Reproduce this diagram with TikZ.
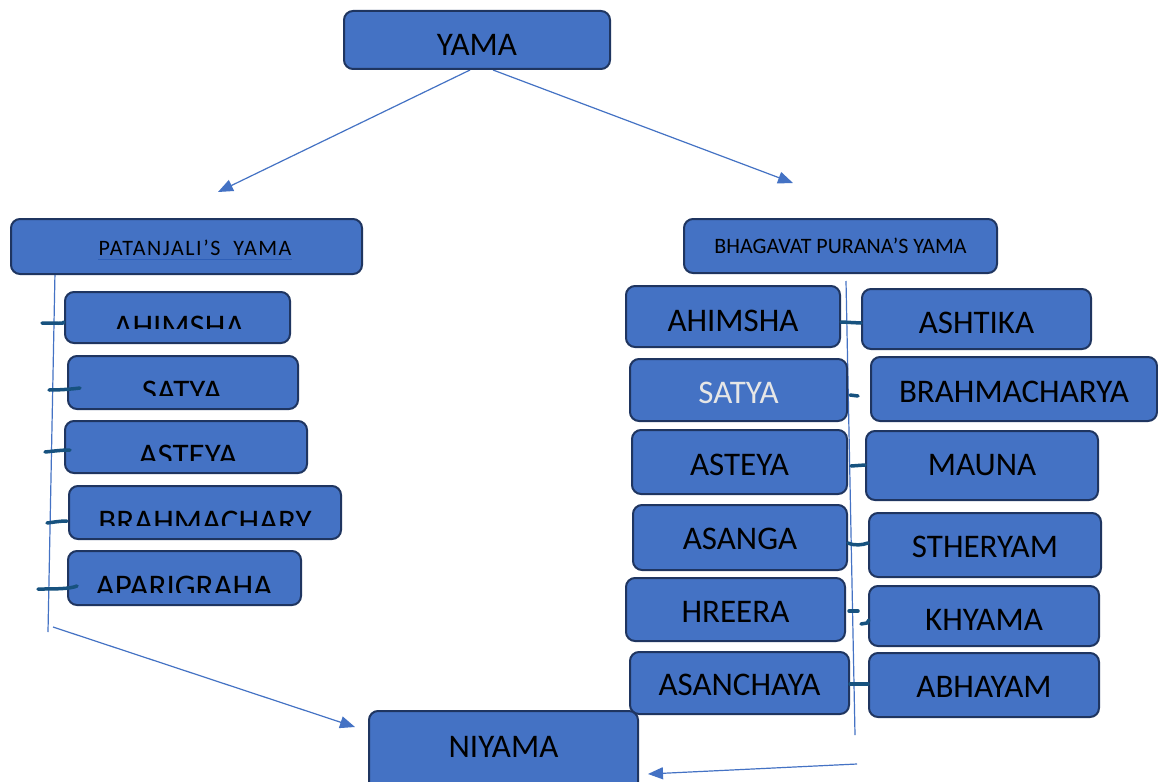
\documentclass[tikz,border=0pt]{standalone}
\usepackage{fontspec}
\setmainfont{Carlito}
\usetikzlibrary{arrows.meta}
\definecolor{boxfill}{HTML}{4472C4}
\definecolor{boxline}{HTML}{1F3560}
\definecolor{tickc}{HTML}{17527F}
\definecolor{arrc}{HTML}{4472C4}
\definecolor{lightt}{HTML}{E6E6E6}
\definecolor{ulc}{HTML}{2E5FB8}
\begin{document}
\begin{tikzpicture}[x=1pt,y=-1pt,
  box/.style={draw=boxline, line width=2pt, fill=boxfill, rounded corners=9pt, inner sep=0pt, text=black, font=\fontsize{33}{36}\selectfont},
  smallbox/.style={box, font=\fontsize{22}{24}\selectfont},
  tick/.style={draw=tickc, line width=3.5pt, line cap=round},
  conn/.style={draw=arrc, line width=1.2pt},
  arr/.style={conn, -{Triangle[length=15pt,width=12pt]}},
  bt/.style={text=black, font=\fontsize{33}{36}\selectfont, inner sep=0pt, anchor=base},
]
\useasboundingbox (0,0) rectangle (1158,781);
\fill[white] (0,0) rectangle (1158,781);

% connector end points
\coordinate (yamaL) at (470,70);
\coordinate (yamaR) at (493,70);
\coordinate (patTip) at (218,192);
\coordinate (bhaTip) at (793,183);
\coordinate (lTop) at (55,272);
\coordinate (lBot) at (48,632);
\coordinate (lStart) at (53,627);
\coordinate (niyL) at (355,727);
\coordinate (rTop) at (846,281);
\coordinate (rBot) at (855,735);
\coordinate (rStart) at (857,764);
\coordinate (niyR) at (648,774);

\draw[arr] (yamaL) -- (patTip);
\draw[arr] (yamaR) -- (bhaTip);
\draw[conn] (lTop) -- (lBot);
\draw[arr] (lStart) -- (niyL);
\draw[conn] (rTop) -- (rBot);
\draw[arr] (rStart) -- (niyR);

% top
\node[box, minimum width=266pt, minimum height=58pt, text height=31pt] (yama) at (477,40) {YAMA};

% Patanjali
\node[box, minimum width=351pt, minimum height=55pt] (patanjali) at (186.5,246.5) {};
\node[font=\fontsize{22}{24}\selectfont\addfontfeatures{LetterSpace=7}, inner sep=0pt, text=black] (patanjaliT) at (195,248) {PATANJALI’S\ \ YAMA};
\draw[ulc, line width=1pt] (patanjaliT.south west) ++(0,3) -- ([yshift=-3pt]patanjaliT.south east);

\node[box, minimum width=225pt, minimum height=51pt] (lAhimsha) at (177.5,317.5) {};
\node[box, minimum width=230pt, minimum height=53pt] (lSatya) at (183,382.5) {};
\node[box, minimum width=242pt, minimum height=52pt] (lAsteya) at (186,447) {};
\node[box, minimum width=272pt, minimum height=53pt] (lBrahma) at (205,512.5) {};
\node[box, minimum width=233pt, minimum height=54pt] (lApari) at (184.5,578) {};

\begin{scope}\clip (65,292) rectangle (290,328); \node[bt] (lAhimshaT) at (179,337) {AHIMSHA};\end{scope}
\begin{scope}\clip (68,356) rectangle (298,395); \node[bt] (lSatyaT) at (182,402) {SATYA};\end{scope}
\begin{scope}\clip (65,421) rectangle (307,460); \node[bt] (lAsteyaT) at (188,466) {ASTEYA};\end{scope}
\begin{scope}\clip (69,486) rectangle (341,525); \node[bt] (lBrahmaT) at (205,532) {BRAHMACHARY};\end{scope}
\begin{scope}\clip (68,551) rectangle (301,592); \node[bt] (lApariT) at (184,597) {APARIGRAHA};\end{scope}

% Bhagavat
\node[smallbox, minimum width=313pt, minimum height=54pt] (bhagavat) at (840.5,246) {BHAGAVAT PURANA’S YAMA};

\node[box, minimum width=214pt, minimum height=61pt, text height=30pt] (rAhimsha) at (733,316.5) {AHIMSHA};
\node[box, minimum width=229pt, minimum height=60pt, text height=29pt] (rAshtika) at (976.5,319) {ASHTIKA};
\node[box, minimum width=217pt, minimum height=62pt, text height=27pt, text=lightt] (rSatya) at (738.5,390) {SATYA};
\node[box, minimum width=286pt, minimum height=64pt, text height=27pt] (rBrahma) at (1014,389) {BRAHMACHARYA};
\node[box, minimum width=215pt, minimum height=64pt, text height=27pt] (rAsteya) at (739.5,462) {ASTEYA};
\node[box, minimum width=232pt, minimum height=69pt] (rMauna) at (982,465.5) {MAUNA};
\node[box, minimum width=214pt, minimum height=65pt, text height=24pt] (rAsanga) at (740,537.5) {ASANGA};
\node[box, minimum width=232pt, minimum height=64pt, text height=25pt] (rStheryam) at (985,545) {STHERYAM};
\node[box, minimum width=219pt, minimum height=63pt, text height=26pt] (rHreera) at (735.5,609.5) {HREERA};
\node[box, minimum width=230pt, minimum height=60pt, text height=29pt] (rKhyama) at (984,616) {KHYAMA};
\node[box, minimum width=219pt, minimum height=62pt, text height=25pt] (rAsanchaya) at (739.5,683) {ASANCHAYA};
\node[box, minimum width=230pt, minimum height=64pt, text height=25pt] (rAbhayam) at (984,685) {ABHAYAM};

% Niyama
\node[box, minimum width=269pt, minimum height=90pt, text depth=19pt] (niyama) at (503.5,756) {NIYAMA};

% ticks left
\draw[tick] (42,323) .. controls (55,323) and (65,324) .. (lAhimsha.west |- 75,322);
\draw[tick] (49,390) .. controls (62,390) and (72,389) .. (80,388);
\draw[tick] (45,452) .. controls (55,451) and (62,450) .. (70,450);
\draw[tick] (47,523) .. controls (55,522) and (60,521) .. (67,521);
\draw[tick] (38,589) .. controls (55,589) and (70,589) .. (77,586);

% ticks right
\draw[tick] (rAhimsha.east |- 0,322) -- (rAshtika.west |- 0,323);
\draw[tick] (850,395) -- (858,396);
\draw[tick] (851,466) -- (rMauna.west |- 0,465);
\draw[tick] (rAsanga.east |- 0,543) .. controls (855,546) and (862,545) .. (rStheryam.west |- 0,543);
\draw[tick] (849,611) -- (858,611);
\draw[tick] (861,624) -- (867,623) -- (869,620);
\draw[tick] (rAsanchaya.east |- 0,684) -- (rAbhayam.west |- 0,684);
\end{tikzpicture}
\end{document}
